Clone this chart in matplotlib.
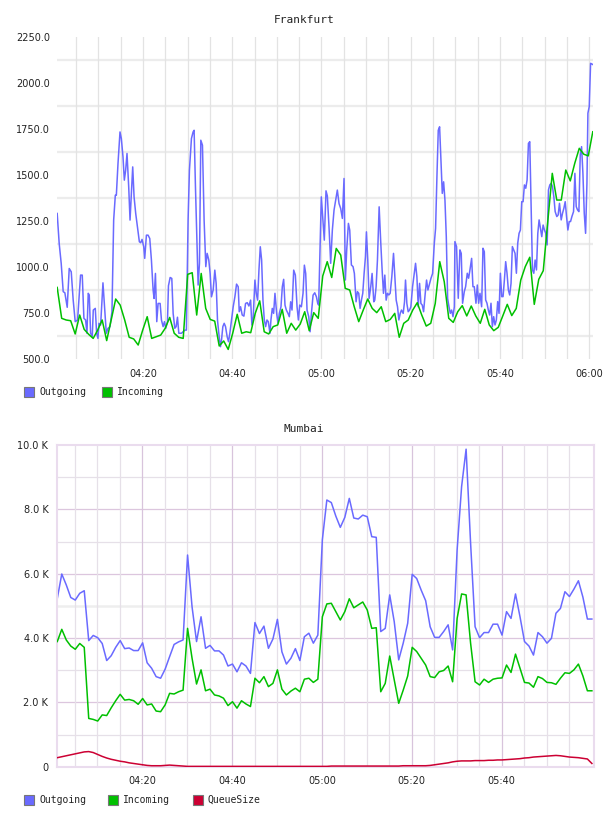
import matplotlib
matplotlib.use("Agg")
import matplotlib.pyplot as plt
import numpy as np
from matplotlib.patches import Rectangle
from matplotlib.ticker import FuncFormatter

# ---- data (time = minutes after 04:00) ----
fra_out_t = [
    0.76, 1.21, 1.66, 2.11, 2.48, 3.01, 3.46, 3.91, 4.35, 4.80, 5.33, 6.00, 6.38, 6.75, 7.13,
    7.43, 7.72, 7.95, 8.25, 8.62, 8.85, 9.30, 9.60, 9.90, 10.12, 10.50, 11.02, 11.32, 11.77,
    12.14, 12.59, 13.04, 13.42, 13.79, 14.02, 14.39, 14.84, 15.14, 15.51, 15.81, 16.11, 16.41,
    16.79, 17.09, 17.39, 17.69, 17.99, 18.36, 18.74, 19.18, 19.48, 19.78, 20.16, 20.38, 20.76,
    21.13, 21.51, 21.88, 22.26, 22.48, 22.78, 23.08, 23.38, 23.83, 24.13, 24.50, 24.80, 25.10,
    25.48, 25.70, 26.08, 26.45, 26.75, 27.12, 27.42, 27.72, 28.02, 28.32, 28.62, 29.07, 29.37,
    29.72, 30.10, 30.40, 30.85, 31.22, 31.45, 31.75, 32.05, 32.35, 32.65, 32.95, 33.32, 33.69,
    34.07, 34.37, 34.74, 35.04, 35.34, 35.72, 36.09, 36.39, 36.69, 37.06, 37.36, 37.59, 37.89,
    38.19, 38.49, 38.86, 39.16, 39.46, 39.84, 40.21, 40.59, 40.96, 41.33, 41.56, 41.86, 42.23,
    42.61, 42.98, 43.36, 43.73, 44.11, 44.40, 44.70, 45.08, 45.38, 45.68, 45.98, 46.28, 46.58,
    46.88, 47.18, 47.48, 47.78, 48.08, 48.45, 48.67, 48.97, 49.27, 49.57, 49.95, 50.25, 50.55,
    50.92, 51.22, 51.52, 51.82, 52.12, 52.49, 52.79, 53.09, 53.39, 53.77, 54.14, 54.52, 54.82,
    55.12, 55.49, 55.86, 56.16, 56.46, 56.76, 57.14, 57.44, 57.74, 58.11, 58.49, 58.86, 59.16,
    59.36, 59.96, 60.33, 60.63, 61.01, 61.31, 61.68, 62.06, 62.43, 62.81, 63.18, 63.55, 63.93,
    64.30, 64.68, 65.05, 65.35, 65.65, 66.03, 66.33, 66.70, 67.07, 67.37, 67.75, 68.05, 68.35,
    68.65, 68.95, 69.25, 69.55, 69.85, 70.07, 70.37, 70.67, 71.04, 71.34, 71.72, 71.94, 72.24,
    72.54, 72.92, 73.29, 73.59, 73.89, 74.19, 74.49, 74.79, 75.09, 75.39, 75.76, 76.14, 76.44,
    76.74, 77.04, 77.34, 77.64, 77.93, 78.31, 78.61, 78.83, 79.13, 79.43, 79.73, 80.03, 80.41,
    80.78, 81.08, 81.38, 81.68, 81.98, 82.28, 82.58, 82.88, 83.25, 83.55, 83.85, 84.23, 84.53,
    84.90, 85.28, 85.57, 85.87, 86.17, 86.47, 86.77, 87.07, 87.37, 87.67, 87.97, 88.27, 88.57,
    88.87, 89.17, 89.47, 89.77, 89.90, 90.27, 90.65, 91.02, 91.32, 91.62, 92.00, 92.30, 92.67,
    92.97, 93.27, 93.65, 93.94, 94.24, 94.62, 94.92, 95.22, 95.52, 95.89, 96.19, 96.49, 96.79,
    97.09, 97.39, 97.69, 97.99, 98.29, 98.59, 98.89, 99.19, 99.49, 99.79, 100.09, 100.39,
    100.69, 100.99, 101.28, 101.58, 101.88, 102.18, 102.48, 102.78, 103.08, 103.38, 103.68,
    103.98, 104.28, 104.58, 104.88, 105.18, 105.48, 105.78, 106.08, 106.38, 106.68, 106.98,
    107.28, 107.58, 107.88, 108.18, 108.48, 108.77, 109.07, 109.37, 109.67, 109.97, 110.27,
    110.57, 110.87, 111.17, 111.47, 111.77, 112.07, 112.37, 112.74, 113.04, 113.34, 113.72,
    114.02, 114.32, 114.62, 114.92, 115.22, 115.52, 115.82, 116.12, 116.49, 116.79, 117.09,
    117.39, 117.69, 117.99, 118.29, 118.59, 118.89, 119.19, 119.49, 119.71, 120.01, 120.31,
    120.61, 120.91,
]
fra_out_v = [
    1291, 1128, 1020, 866, 860, 781, 992, 974, 820, 703, 712, 956, 956, 721, 712,
    640, 857, 848, 640, 621, 766, 775, 640, 612, 694, 685, 914, 802, 640,
    666, 676, 757, 1255, 1390, 1390, 1562, 1734, 1698, 1599, 1472, 1526, 1617,
    1436, 1255, 1400, 1544, 1382, 1291, 1219, 1137, 1132, 1150, 1110, 1047, 1173,
    1173, 1155, 1038, 875, 829, 965, 703, 802, 802, 712, 676, 703, 667,
    703, 898, 943, 938, 748, 667, 676, 727, 640, 640, 640, 650, 657,
    657, 1255, 1526, 1698, 1734, 1743, 1436, 1164, 902, 1020, 1689, 1662, 1255,
    1002, 1074, 1038, 965, 838, 875, 983, 911, 712, 621, 567, 603, 676,
    694, 676, 621, 594, 640, 712, 784, 838, 907, 893, 757, 784, 739,
    733, 802, 806, 788, 820, 685, 730, 929, 857, 820, 983, 1110, 1038,
    820, 712, 676, 712, 703, 640, 712, 775, 748, 857, 748, 694, 748,
    784, 893, 933, 793, 766, 748, 730, 811, 766, 983, 956, 784, 712,
    793, 784, 857, 1010, 965, 766, 730, 648, 748, 847, 860, 838, 802,
    793, 1381, 1255, 1146, 1414, 1386, 1219, 1020, 1200, 1309, 1363, 1418, 1345,
    1318, 1264, 1481, 929, 1092, 1237, 1200, 1011, 1002, 965, 811, 866, 857,
    775, 820, 857, 965, 1056, 1191, 1038, 829, 893, 965, 811, 820, 893,
    1038, 1327, 1128, 983, 857, 956, 820, 857, 848, 857, 947, 1074, 947,
    820, 784, 712, 748, 766, 748, 811, 929, 802, 757, 766, 784, 893,
    965, 1020, 947, 784, 911, 802, 793, 757, 857, 929, 875, 911, 938,
    965, 1128, 1210, 1490, 1743, 1762, 1581, 1400, 1463, 1363, 1164, 829, 784,
    748, 766, 730, 784, 1138, 1111, 830, 1093, 1074, 803, 866, 893, 966,
    939, 984, 1047, 893, 893, 803, 902, 803, 857, 784, 1102, 1083, 821,
    803, 766, 739, 803, 676, 730, 685, 712, 812, 748, 966, 839,
    839, 929, 1029, 966, 875, 848, 911, 1111, 1093, 1074, 966,
    1129, 1183, 1201, 1355, 1355, 1446, 1428, 1473, 1672, 1681, 1328,
    984, 966, 1038, 984, 1183, 1256, 1210, 1165, 1228, 1201, 1183,
    1120, 1419, 1446, 1455, 1437, 1382, 1301, 1274, 1283, 1346, 1256,
    1292, 1319, 1355, 1274, 1201, 1247, 1247, 1274, 1301, 1509, 1328,
    1310, 1301, 1609, 1654, 1509, 1292, 1183, 1455, 1836, 1872, 2107,
    2103, 2099,
]
fra_in_v = [
    889, 721, 712, 708, 636, 739, 661, 634, 612, 657, 712, 600, 712, 826, 793, 712, 618, 609,
    576, 657, 730, 612, 621, 630, 667, 726, 640, 618, 612,
    960, 969, 739, 965, 775, 715, 706, 571, 598, 552, 640, 743, 640, 648, 643, 748, 816, 648,
    636, 676, 685, 770, 640, 694, 657, 690, 757, 654, 752, 721,
    951, 1029, 943, 1101, 1065, 884, 875, 784, 703, 766, 826, 775, 752, 784, 703, 715, 748,
    618, 694, 712, 766, 806, 739, 679, 694, 802, 1029, 920, 721, 699,
    757, 790, 734, 788, 734, 694, 770, 685, 654, 672, 734, 797, 736, 775, 929, 1002, 1053,
    797, 933, 980, 1247, 1509, 1364, 1364, 1527, 1468, 1564, 1645, 1613, 1604, 1735,
]
fra_in_t = np.linspace(0.76, 120.8, len(fra_in_v))

# Mumbai, one sample per minute, values in thousands
mum_out = [
    5.23, 5.99, 5.65, 5.26, 5.18, 5.39, 5.47, 3.92, 4.08, 4.01, 3.83, 3.30, 3.45, 3.71, 3.92,
    3.67, 3.69, 3.61, 3.61, 3.85, 3.23, 3.06, 2.80, 2.75, 3.03, 3.42, 3.80, 3.88, 3.94, 6.58,
    4.97, 3.89, 4.66, 3.68, 3.77, 3.60, 3.60, 3.47, 3.13, 3.19, 2.95, 3.23, 3.13, 2.90, 4.48,
    4.14, 4.37, 3.68, 3.97, 4.58, 3.57, 3.19, 3.37, 3.67, 3.30, 4.04, 4.15, 3.84, 4.09, 7.05,
    8.29, 8.21, 7.79, 7.44, 7.75, 8.34, 7.73, 7.70, 7.82, 7.77, 7.15, 7.13, 4.20, 4.30, 5.34,
    4.51, 3.32, 3.84, 4.46, 5.98, 5.85, 5.49, 5.16, 4.35, 4.02, 4.02, 4.20, 4.41, 3.63, 6.74,
    8.71, 9.87, 6.95, 4.35, 4.01, 4.17, 4.17, 4.43, 4.43, 4.09, 4.82, 4.61, 5.37, 4.66, 3.89,
    3.75, 3.47, 4.17, 4.04, 3.84, 3.99, 4.77, 4.92, 5.44, 5.29, 5.52, 5.78, 5.27, 4.59, 4.59,
]
mum_in = [
    3.89, 4.27, 3.94, 3.75, 3.65, 3.83, 3.71, 1.50, 1.47, 1.42, 1.61, 1.59, 1.83, 2.05, 2.25,
    2.07, 2.09, 2.05, 1.94, 2.12, 1.92, 1.95, 1.73, 1.71, 1.92, 2.28, 2.26, 2.33, 2.38, 4.30,
    3.37, 2.57, 3.01, 2.36, 2.41, 2.23, 2.20, 2.13, 1.90, 2.02, 1.82, 2.05, 1.95, 1.87, 2.75,
    2.61, 2.80, 2.49, 2.59, 3.01, 2.41, 2.23, 2.35, 2.44, 2.33, 2.72, 2.75, 2.62, 2.72, 4.66,
    5.06, 5.08, 4.82, 4.56, 4.82, 5.22, 4.94, 5.03, 5.12, 4.87, 4.30, 4.32, 2.33, 2.59, 3.44,
    2.70, 1.97, 2.38, 2.82, 3.71, 3.58, 3.37, 3.16, 2.80, 2.77, 2.95, 2.99, 3.13, 2.64, 4.61,
    5.37, 5.34, 3.84, 2.64, 2.54, 2.72, 2.62, 2.72, 2.75, 2.76, 3.16, 2.93, 3.50, 3.06, 2.62,
    2.60, 2.47, 2.80, 2.74, 2.62, 2.61, 2.56, 2.75, 2.92, 2.90, 3.01, 3.19, 2.82, 2.36, 2.36,
]
mum_queue = [
    0.28, 0.31, 0.34, 0.37, 0.40, 0.43, 0.46, 0.47, 0.44, 0.38, 0.32, 0.27, 0.23, 0.20, 0.17,
    0.15, 0.12, 0.10, 0.08, 0.06, 0.04, 0.03, 0.03, 0.03, 0.04, 0.05, 0.04, 0.03, 0.02, 0.01,
    0.01, 0.01, 0.01, 0.01, 0.01, 0.01, 0.01, 0.01, 0.01, 0.01, 0.01, 0.01, 0.01, 0.01, 0.01,
    0.01, 0.01, 0.01, 0.01, 0.01, 0.01, 0.01, 0.01, 0.01, 0.01, 0.01, 0.01, 0.01, 0.01, 0.01,
    0.01, 0.02, 0.02, 0.02, 0.02, 0.02, 0.02, 0.02, 0.02, 0.02, 0.02, 0.02, 0.02, 0.02, 0.02,
    0.02, 0.02, 0.03, 0.03, 0.03, 0.03, 0.03, 0.03, 0.04, 0.06, 0.08, 0.10, 0.12, 0.15, 0.17,
    0.18, 0.18, 0.18, 0.19, 0.19, 0.19, 0.20, 0.20, 0.21, 0.21, 0.22, 0.23, 0.24, 0.25, 0.27,
    0.28, 0.30, 0.31, 0.32, 0.33, 0.34, 0.35, 0.34, 0.32, 0.30, 0.29, 0.28, 0.26, 0.24, 0.10,
]
mum_t = 1.08 + np.arange(len(mum_out))

fra_yticks = [500, 750, 1000, 1250, 1500, 1750, 2000, 2250]
mum_yticks = [0, 2, 4, 6, 8, 10]
time_ticks = [20, 40, 60, 80, 100, 120]

C_OUT = "#6a6aff"
C_IN = "#00c000"
C_Q = "#cc0033"

W, H = 608, 816
fig = plt.figure(figsize=(W / 100, H / 100), dpi=100)


def box(l, t, r, b):
    return [l / W, 1 - b / H, (r - l) / W, (b - t) / H]


def hhmm(m, _pos=None):
    m = int(round(m))
    return f"{4 + m // 60:02d}:{m % 60:02d}"


MONO = "DejaVu Sans Mono"

# ---- Frankfurt ----
ax1 = fig.add_axes(box(57, 37, 593, 359))
ax1.set_xlim(0.72, 120.85)
ax1.set_ylim(500, 2250)
for s in ax1.spines.values():
    s.set_visible(False)
ax1.set_yticks(fra_yticks)
ax1.yaxis.set_major_formatter(FuncFormatter(lambda v, p: f"{v:.1f}"))
ax1.set_xticks(time_ticks)
ax1.xaxis.set_major_formatter(FuncFormatter(hhmm))
for y in np.arange(625, 2250, 250):
    ax1.axhline(y, color="#ececec", lw=1.6, zorder=0)
for x in np.arange(5, 121, 5):
    ax1.axvline(x, color="#e3e3e3", lw=0.9, zorder=0)
ax1.tick_params(length=0, labelsize=7, colors="#222222")
ax1.tick_params(axis="x", pad=7)
ax1.tick_params(axis="y", pad=5)
ax1.plot(fra_out_t, fra_out_v, color=C_OUT, lw=1.1, zorder=2)
ax1.plot(fra_in_t, fra_in_v, color=C_IN, lw=1.1, zorder=3)
fig.text(0.5, 1 - 20 / H, "Frankfurt", ha="center", va="center",
         family=MONO, fontsize=8, color="#222222")

# ---- Mumbai ----
ax2 = fig.add_axes(box(56.7, 445, 594, 766.7))
ax2.set_xlim(0.95, 120.55)
ax2.set_ylim(0, 10)
for s in ax2.spines.values():
    s.set_color("#eadcee")
    s.set_linewidth(1.5)
ax2.set_yticks(mum_yticks)
ax2.yaxis.set_major_formatter(FuncFormatter(lambda v, p: "0" if v == 0 else f"{v:.1f} K"))
ax2.set_xticks(time_ticks[:-1])
ax2.xaxis.set_major_formatter(FuncFormatter(hhmm))
for y in [1, 3, 7, 9]:
    ax2.axhline(y, color="#e6e0e8", lw=0.9, zorder=0)
ax2.axhline(5, color="#eeeeee", lw=1.8, zorder=0)
for y in [2, 4, 6, 8]:
    ax2.axhline(y, color="#dcc6de", lw=0.9, zorder=0)
for x in np.arange(5, 116, 5):
    major = x % 20 == 0
    ax2.axvline(x, color="#d8c4dc" if major else "#e6e0e8", lw=0.9, zorder=0)
ax2.tick_params(length=0, labelsize=7, colors="#222222")
ax2.tick_params(axis="x", pad=7)
ax2.tick_params(axis="y", pad=6)
ax2.plot(mum_t, mum_out, color=C_OUT, lw=1.1, zorder=2)
ax2.plot(mum_t, mum_in, color=C_IN, lw=1.1, zorder=3)
ax2.plot(mum_t, mum_queue, color=C_Q, lw=1.1, zorder=4)
fig.text(0.5, 1 - 429 / H, "Mumbai", ha="center", va="center",
         family=MONO, fontsize=8, color="#222222")

# ---- legends ----
def legend_item(x, y, color, label):
    fig.patches.append(Rectangle((x / W, 1 - (y + 5) / H), 10 / W, 10 / H,
                                 transform=fig.transFigure, facecolor=color,
                                 edgecolor="#777777", lw=0.8))
    fig.text((x + 15) / W, 1 - y / H, label, ha="left", va="center",
             family=MONO, fontsize=7, color="#222222")


legend_item(24, 392, C_OUT, "Outgoing")
legend_item(102, 392, C_IN, "Incoming")
legend_item(24, 800, C_OUT, "Outgoing")
legend_item(108, 800, C_IN, "Incoming")
legend_item(193, 800, C_Q, "QueueSize")

fig.savefig("out.png", dpi=100)
